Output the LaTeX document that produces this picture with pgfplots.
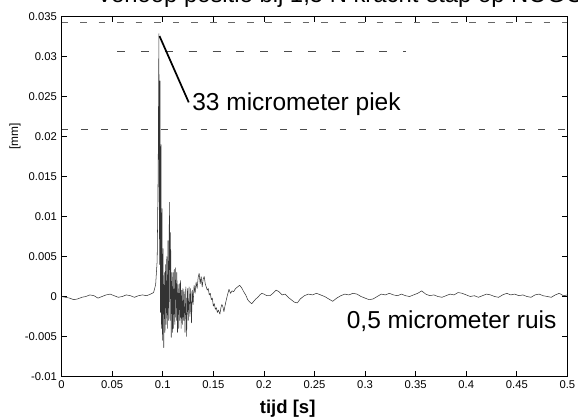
\documentclass[border=0pt]{standalone}
\usepackage{fontspec}
\setmainfont{Liberation Sans}
\usepackage{pgfplots}
\pgfplotsset{compat=1.18}

\pgfplotstableread{
t v
0.000 0.0000
0.004 -0.0001
0.008 -0.0002
0.012 -0.0004
0.016 -0.0003
0.020 -0.0001
0.024 0.0000
0.028 0.0002
0.032 0.0001
0.036 -0.0002
0.040 0.0000
0.044 0.0002
0.048 0.0003
0.052 0.0001
0.056 -0.0001
0.060 0.0000
0.064 0.0002
0.068 0.0001
0.072 -0.0001
0.076 0.0001
0.080 0.0002
0.084 0.0001
0.088 0.0003
0.091 0.0005
0.093 0.0015
0.0945 0.0045
0.0955 0.0160
0.0962 0.0329
0.0967 0.0040
0.0973 0.0270
0.0978 -0.0020
0.0983 0.0190
0.0988 -0.0040
0.0993 0.0110
0.0998 -0.0055
0.1003 0.0060
0.1010 -0.0064
0.1016 0.0030
0.1022 -0.0045
0.1028 0.0040
0.1034 -0.0035
0.1040 0.0050
0.1046 -0.0040
0.1052 0.0070
0.1058 -0.0030
0.1066 0.0118
0.1072 -0.0030
0.1078 0.0080
0.1084 -0.0051
0.1090 0.0030
0.1096 -0.0045
0.1102 0.0030
0.1108 -0.0040
0.1114 0.0034
0.1120 -0.0035
0.1128 0.0036
0.1134 -0.0030
0.1140 0.0030
0.1146 -0.0045
0.1152 0.0015
0.1158 -0.0040
0.1164 0.0016
0.1170 -0.0030
0.1176 0.0020
0.1182 -0.0040
0.1188 0.0008
0.1194 -0.0035
0.1200 0.0010
0.1206 -0.0030
0.1212 0.0006
0.1220 -0.0045
0.1228 0.0012
0.1236 -0.0050
0.1244 0.0010
0.1252 -0.0030
0.1260 0.0012
0.1268 -0.0025
0.1276 0.0010
0.1284 -0.0033
0.1292 0.0008
0.1300 -0.0010
0.1310 0.0014
0.1320 0.0004
0.1330 0.0018
0.1340 0.0010
0.1350 0.0024
0.1360 0.0029
0.1370 0.0016
0.1380 0.0025
0.1390 0.0012
0.1400 0.0022
0.1410 0.0025
0.1420 0.0016
0.1430 0.0012
0.1440 0.0008
0.1450 0.0010
0.1460 0.0002
0.1470 0.0004
0.1480 -0.0004
0.1490 -0.0002
0.1500 -0.0012
0.1510 -0.0009
0.1520 -0.0016
0.1530 -0.0014
0.1540 -0.0020
0.1550 -0.0017
0.1565 -0.0022
0.1575 -0.0014
0.1585 -0.0010
0.1595 -0.0013
0.1605 -0.0019
0.1615 -0.0012
0.1625 -0.0006
0.1640 0.0002
0.1655 0.0009
0.1670 0.0004
0.1685 0.0007
0.1700 0.0006
0.1720 0.0010
0.1740 0.0012
0.1760 0.0014
0.1780 0.0011
0.1800 0.0006
0.1820 0.0002
0.1840 -0.0004
0.1860 -0.0007
0.1880 -0.0009
0.1900 -0.0006
0.1920 -0.0003
0.1940 -0.0001
0.1960 0.0002
0.1980 0.0004
0.2000 0.0003
0.2030 0.0001
0.2060 0.0001
0.2090 0.0004
0.2120 0.0008
0.2150 0.0006
0.2180 0.0002
0.2210 0.0003
0.2240 -0.0001
0.2270 -0.0004
0.2300 -0.0007
0.2330 -0.0008
0.2360 -0.0003
0.240 0.0001
0.244 0.0003
0.248 0.0002
0.252 0.0004
0.256 0.0002
0.260 0.0000
0.264 -0.0003
0.268 -0.0006
0.272 -0.0002
0.276 0.0001
0.280 0.0003
0.284 0.0002
0.288 0.0004
0.292 0.0003
0.296 0.0000
0.300 -0.0002
0.304 -0.0004
0.308 -0.0003
0.312 0.0000
0.316 0.0003
0.320 0.0002
0.324 0.0004
0.328 0.0002
0.332 0.0001
0.336 0.0003
0.340 0.0001
0.344 0.0000
0.348 0.0002
0.352 0.0004
0.356 0.0007
0.360 0.0003
0.364 0.0001
0.368 0.0002
0.372 0.0000
0.376 -0.0001
0.380 0.0001
0.384 0.0003
0.388 0.0002
0.392 0.0005
0.396 0.0004
0.400 0.0002
0.404 0.0000
0.408 0.0001
0.412 -0.0001
0.416 0.0001
0.420 0.0003
0.424 0.0002
0.428 0.0000
0.432 -0.0001
0.436 0.0002
0.440 0.0004
0.444 0.0002
0.448 0.0003
0.452 0.0001
0.456 0.0002
0.460 0.0000
0.464 -0.0001
0.468 0.0002
0.472 0.0003
0.476 0.0001
0.480 0.0000
0.484 -0.0001
0.488 0.0002
0.492 0.0004
0.496 0.0001
0.500 0.0002
}\positie

\begin{document}
\begin{tikzpicture}
\begin{axis}[
  scale only axis,
  width=382pt,
  height=271.5pt,
  xmin=0, xmax=0.5,
  ymin=-0.01, ymax=0.035,
  scaled ticks=false,
  xtick={0,0.05,0.1,0.15,0.2,0.25,0.3,0.35,0.4,0.45,0.5},
  xticklabels={0,0.05,0.1,0.15,0.2,0.25,0.3,0.35,0.4,0.45,0.5},
  ytick={-0.01,-0.005,0,0.005,0.01,0.015,0.02,0.025,0.03,0.035},
  yticklabels={-0.01,-0.005,0,0.005,0.01,0.015,0.02,0.025,0.03,0.035},
  tick label style={font=\fontsize{8.5}{9}\selectfont},
  tick align=inside,
  major tick length=4pt,
  axis line style={line width=0.9pt},
  every tick/.style={black, line width=0.6pt},
  clip mode=individual,
  xlabel={tijd [s]},
  xlabel style={font=\fontsize{14}{16}\selectfont\bfseries, at={(axis description cs:0.447,-0.09)}, anchor=center},
  ylabel={[mm]},
  ylabel style={font=\fontsize{9}{10}\selectfont, at={(axis description cs:-0.092,0.668)}, anchor=center},
  title={Verloop positie bij 1,5 N kracht-stap op NOGO},
  title style={font=\fontsize{18}{20}\selectfont, at={(axis description cs:0.06,1.017)}, anchor=base west},
]
% scan artefacts: faint dashed horizontal lines
\addplot[black!60, line width=0.6pt, dash pattern=on 5pt off 9pt] coordinates {(0,0.0343) (0.5,0.0343)};
\addplot[black!70, line width=0.6pt, dash pattern=on 6pt off 12pt] coordinates {(0.055,0.0307) (0.34,0.0307)};
\addplot[black!70, line width=0.6pt, dash pattern=on 5pt off 10pt] coordinates {(0,0.0209) (0.5,0.0209)};
% signal
\addplot[black!80, line width=0.4pt, line join=round] table[x=t, y=v] {\positie};
% annotations
\draw[line width=1.3pt] (axis cs:0.0968,0.0326) -- (axis cs:0.1257,0.0243);
\node[anchor=west, inner sep=0pt, font=\fontsize{18.5}{20}\selectfont] at (axis cs:0.1290,0.0241) {33 micrometer piek};
\node[anchor=west, inner sep=0pt, font=\fontsize{18.5}{20}\selectfont] at (axis cs:0.2817,-0.0031) {0,5 micrometer ruis};
\end{axis}
\pgfresetboundingbox
\path[use as bounding box] (-46.5pt,-32.25pt) rectangle (390pt,284.25pt);
\end{tikzpicture}
\end{document}
